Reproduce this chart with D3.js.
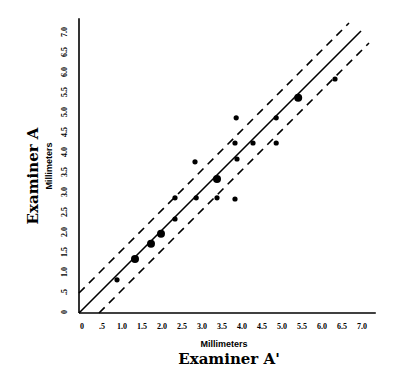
<!DOCTYPE html>
<html>
<head>
<meta charset="utf-8">
<script src="https://cdn.jsdelivr.net/npm/d3@7"></script>
<style>
  body { margin: 0; background: #fff; }
  svg { display: block; }
  .tick-label { font-family: "Liberation Serif", serif; font-weight: bold; font-size: 8px; }
  .unit { font-family: "Liberation Sans", sans-serif; font-weight: bold; font-size: 9px; }
  .title { font-family: "DejaVu Serif", serif; font-weight: bold; font-size: 15px; }
</style>
</head>
<body>
<script>
  // examiner A' (x) vs examiner A (y), millimeters
  var xVals = [0.95, 1.4, 1.8, 2.05, 2.4, 2.4, 2.9, 2.93, 3.45, 3.45,
               3.9, 3.95, 3.9, 4.35, 3.93, 4.93, 4.93, 5.48, 6.4];
  var yVals = [0.83, 1.35, 1.73, 1.98, 2.35, 2.88, 3.78, 2.88, 3.35, 2.88,
               2.85, 3.85, 4.25, 4.25, 4.88, 4.88, 4.25, 5.38, 5.85];
  var bigPoint = [0, 1, 1, 1, 0, 0, 0, 0, 1, 0,
                  0, 0, 0, 0, 0, 0, 0, 1, 0];
  var tickVals = [0, 0.5, 1, 1.5, 2, 2.5, 3, 3.5, 4, 4.5, 5, 5.5, 6, 6.5, 7];
  var tickLabels = ['0', '.5', '1.0', '1.5', '2.0', '2.5', '3.0', '3.5',
                    '4.0', '4.5', '5.0', '5.5', '6.0', '6.5', '7.0'];
  // identity line and the +/- 0.5 mm band
  var identityLine = [[0, 0], [7.05, 7.05]];
  var upperBand = [[0, 0.5], [6.75, 7.25]];
  var lowerBand = [[0.5, 0], [7.25, 6.75]];

  var width = 400, height = 373;

  var x = d3.scaleLinear().domain([0, 7]).range([79, 359]);
  var y = d3.scaleLinear().domain([0, 7]).range([313, 33]);

  var svg = d3.select('body').append('svg')
    .attr('width', width)
    .attr('height', height);

  // axes (plain lines, labels drawn separately)
  svg.append('line')
    .attr('x1', x(0)).attr('x2', x(0))
    .attr('y1', y(0)).attr('y2', y(7.37))
    .attr('stroke', '#000').attr('stroke-width', 1.6);
  svg.append('line')
    .attr('x1', x(0)).attr('x2', x(7.42))
    .attr('y1', y(0)).attr('y2', y(0))
    .attr('stroke', '#000').attr('stroke-width', 1.6);

  svg.selectAll('text.xtick')
    .data(tickVals)
    .enter().append('text')
      .attr('class', 'tick-label xtick')
      .attr('x', function (d) { return x(d) + 3; })
      .attr('y', 329)
      .attr('text-anchor', 'middle')
      .text(function (d, i) { return tickLabels[i]; });

  svg.selectAll('text.ytick')
    .data(tickVals)
    .enter().append('text')
      .attr('class', 'tick-label ytick')
      .attr('transform', function (d) {
        return 'translate(67,' + (y(d) - 1) + ') rotate(-90)';
      })
      .attr('text-anchor', 'middle')
      .text(function (d, i) { return tickLabels[i]; });

  var line = d3.line()
    .x(function (d) { return x(d[0]); })
    .y(function (d) { return y(d[1]); });

  svg.append('path')
    .datum(identityLine)
    .attr('d', line)
    .attr('fill', 'none')
    .attr('stroke', '#000')
    .attr('stroke-width', 1.6);

  svg.selectAll('path.band')
    .data([upperBand, lowerBand])
    .enter().append('path')
      .attr('class', 'band')
      .attr('d', line)
      .attr('fill', 'none')
      .attr('stroke', '#000')
      .attr('stroke-width', 1.6)
      .attr('stroke-dasharray', '8,6');

  svg.selectAll('circle.pt')
    .data(xVals)
    .enter().append('circle')
      .attr('class', 'pt')
      .attr('cx', function (d) { return x(d); })
      .attr('cy', function (d, i) { return y(yVals[i]); })
      .attr('r', function (d, i) { return bigPoint[i] ? 4 : 2.6; })
      .attr('fill', '#000');

  // axis titles
  svg.append('text')
    .attr('class', 'unit')
    .attr('x', 224).attr('y', 347)
    .attr('text-anchor', 'middle')
    .text('Millimeters');
  svg.append('text')
    .attr('class', 'title')
    .attr('x', 229).attr('y', 364)
    .attr('text-anchor', 'middle')
    .text("Examiner A'");

  svg.append('text')
    .attr('class', 'unit')
    .attr('transform', 'translate(52,166) rotate(-90)')
    .attr('text-anchor', 'middle')
    .text('Millimeters');
  svg.append('text')
    .attr('class', 'title')
    .attr('transform', 'translate(38,176) rotate(-90)')
    .attr('text-anchor', 'middle')
    .text('Examiner A');
</script>
</body>
</html>
